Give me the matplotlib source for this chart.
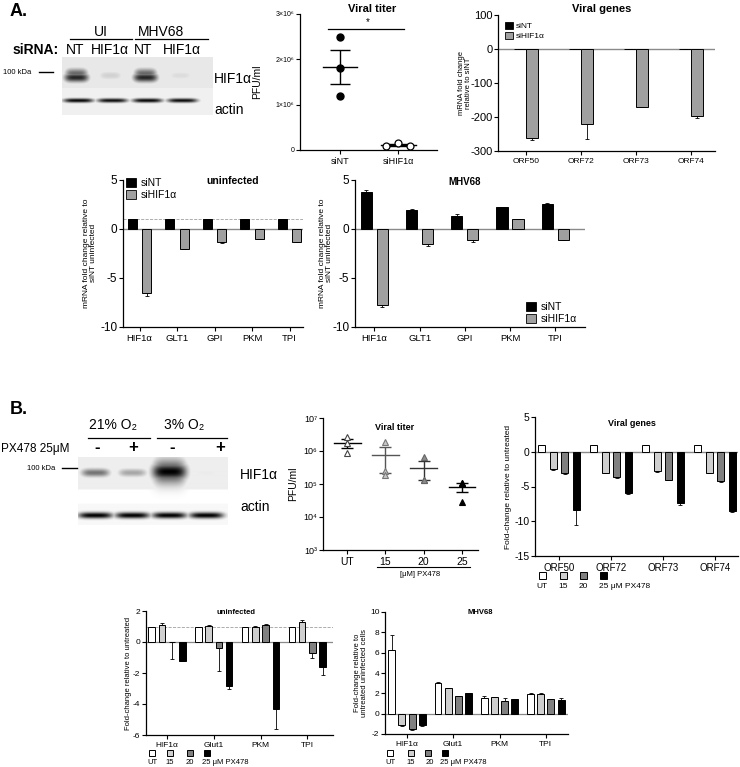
import numpy as np
import matplotlib
matplotlib.use('Agg')
import matplotlib.pyplot as plt
from matplotlib.patches import Rectangle, Patch
from matplotlib.lines import Line2D

plt.rcParams['font.family'] = ['Liberation Sans', 'DejaVu Sans']
plt.rcParams['axes.unicode_minus'] = False

# ---------------- DATA ----------------
# Panel A western blot (relative band intensity)
blotA_groups = ['UI', 'MHV68']
blotA_lanes = ['NT', 'HIF1α', 'NT', 'HIF1α']
blotA_hif = [0.85, 0.18, 0.85, 0.14]
blotA_actin = [0.95, 0.92, 0.95, 0.93]

# Panel A viral titer (PFU/ml)
titerA_groups = ['siNT', 'siHIF1α']
titerA_siNT = [2.5e6, 1.8e6, 1.2e6]
titerA_siHIF = [0.09e6, 0.15e6, 0.09e6]

# Panel A viral genes
genesA_cats = ['ORF50', 'ORF72', 'ORF73', 'ORF74']
genesA_siNT = [1, 1, 1, 1]
genesA_siHIF = [-263, -220, -170, -198]
genesA_siHIF_err = [4, 45, 2, 4]

# Panel A glycolytic genes
glyA_cats = ['HIF1α', 'GLT1', 'GPI', 'PKM', 'TPI']
uninfA_siNT = [1, 1, 1, 1, 1]
uninfA_siNT_err = [0, 0, 0, 0, 0]
uninfA_siHIF = [-6.5, -2.0, -1.3, -1.0, -1.3]
uninfA_siHIF_err = [0.3, 0.05, 0.1, 0.05, 0.05]
mhvA_siNT = [3.8, 1.9, 1.3, 2.2, 2.6]
mhvA_siNT_err = [0.2, 0.15, 0.2, 0.05, 0.05]
mhvA_siHIF = [-7.8, -1.5, -1.1, 1.0, -1.1]
mhvA_siHIF_err = [0.2, 0.25, 0.2, 0.0, 0.0]

# Panel B western blot
blotB_groups = ['21% O₂', '3% O₂']
blotB_lanes = ['-', '+', '-', '+']
blotB_hif = [0.55, 0.35, 1.0, 0.08]
blotB_actin = [1.0, 1.0, 1.0, 1.0]

# Panel B viral titer
titerB_groups = ['UT', '15', '20', '25']
titerB_UT = [2.7e6, 1.7e6, 0.85e6]
titerB_15 = [1.9e6, 2.5e5, 1.9e5]
titerB_20 = [6.8e5, 1.3e5, 1.3e5]
titerB_25 = [1.1e5, 1.1e5, 2.9e4]

dose_labels = ['UT', '15', '20', '25 μM PX478']

# Panel B viral genes
genesB_cats = ['ORF50', 'ORF72', 'ORF73', 'ORF74']
genesB_UT = [1, 1, 1, 1]
genesB_15 = [-2.5, -3.0, -2.8, -3.0]
genesB_20 = [-3.1, -3.7, -4.0, -4.2]
genesB_25 = [-8.4, -5.9, -7.4, -8.5]
genesB_UT_err = [0, 0, 0, 0]
genesB_15_err = [0.1, 0.1, 0.15, 0.1]
genesB_20_err = [0.1, 0.1, 0.1, 0.1]
genesB_25_err = [2.1, 0.2, 0.3, 0.2]

# Panel B glycolytic genes
glyB_cats = ['HIF1α', 'Glut1', 'PKM', 'TPI']
uninfB_UT = [1, 1, 1, 1]
uninfB_15 = [1.1, 1.05, 1.0, 1.3]
uninfB_20 = [-0.02, -0.4, 1.1, -0.7]
uninfB_25 = [-1.2, -2.85, -4.3, -1.6]
uninfB_UT_err = [0, 0, 0, 0]
uninfB_15_err = [0.1, 0.05, 0.05, 0.1]
uninfB_20_err = [1.1, 1.5, 0.05, 0.3]
uninfB_25_err = [0.02, 0.15, 1.3, 0.5]

mhvB_UT = [6.3, 3.0, 1.55, 1.95]
mhvB_15 = [-1.15, 2.5, 1.65, 1.95]
mhvB_20 = [-1.55, 1.75, 1.2, 1.4]
mhvB_25 = [-1.15, 2.0, 1.4, 1.35]
mhvB_UT_err = [1.45, 0.12, 0.15, 0.12]
mhvB_15_err = [0.03, 0.05, 0.03, 0.1]
mhvB_20_err = [0.1, 0.03, 0.3, 0.05]
mhvB_25_err = [0.03, 0.05, 0.05, 0.15]

# ---------------- FIGURE ----------------
W, H = 740, 767
fig = plt.figure(figsize=(W / 100, H / 100), dpi=100)


def fx(x):
    return x / W


def fy(y):
    return 1 - y / H


def add_ax(x0, y0, x1, y1):
    return fig.add_axes([x0 / W, 1 - y1 / H, (x1 - x0) / W, (y1 - y0) / H])


def ftext(x, y, s, **kw):
    kw.setdefault('ha', 'center')
    kw.setdefault('va', 'center')
    fig.text(fx(x), fy(y), s, **kw)


def fline(x0, x1, y, lw=0.9, color='black'):
    fig.add_artist(Line2D([fx(x0), fx(x1)], [fy(y), fy(y)], lw=lw,
                          color=color, transform=fig.transFigure))


def style_axes(ax, ysize, xsize):
    for s in ['top', 'right']:
        ax.spines[s].set_visible(False)
    ax.spines['left'].set_linewidth(0.9)
    ax.spines['bottom'].set_linewidth(0.9)
    ax.tick_params(axis='y', labelsize=ysize, length=3, width=0.8, pad=1)
    ax.tick_params(axis='x', labelsize=xsize, length=3, width=0.8, pad=2)


def bars(ax, vals, errs, offset, width, color, lw=0.7):
    xs = np.arange(len(vals)) + offset
    ax.bar(xs, vals, width, color=color, edgecolor='black', linewidth=lw, zorder=3)
    lo = [e if v < 0 else 0 for v, e in zip(vals, errs)]
    hi = [e if v >= 0 else 0 for v, e in zip(vals, errs)]
    ax.errorbar(xs, vals, yerr=[lo, hi], fmt='none', ecolor='black',
                elinewidth=0.6, capsize=1.5, capthick=0.6, zorder=4)


def blot_image(ax, rows, width, height, bg_rows):
    img = np.zeros((height, width))
    for (r0, r1, bg) in bg_rows:
        img[r0:r1, :] = bg
    yy, xx = np.mgrid[0:height, 0:width]
    for (cx, cy, hw, sy, inten) in rows:
        band = inten * np.exp(-((xx - cx) / hw) ** 4) * np.exp(-((yy - cy) / sy) ** 2)
        img = np.maximum(img, band)
    ax.imshow(img, cmap='gray_r', vmin=0, vmax=1, aspect='auto',
              interpolation='bilinear', extent=[0, width, height, 0])
    ax.axis('off')


# ---------------- PANEL LABELS ----------------
ftext(10, 12, 'A.', ha='left', fontsize=13, fontweight='bold')
ftext(10, 410, 'B.', ha='left', fontsize=13, fontweight='bold')

# ---------------- A: Western blot ----------------
axb = add_ax(62, 57, 213, 115)
lanesA = [14, 48, 83, 118]
bandsA = []
for i, v in enumerate(blotA_hif):
    if v > 0.5:
        bandsA.append((lanesA[i], 20, 12, 4.5, v))
        bandsA.append((lanesA[i], 16, 11, 5.0, v * 0.7))
    else:
        bandsA.append((lanesA[i], 18, 12, 5.0, v))
for i, v in enumerate(blotA_actin):
    bandsA.append((lanesA[i] + 2, 43, 15, 2.2, v))
blot_image(axb, bandsA, 151, 58, [(0, 31, 0.09), (31, 58, 0.06)])

ftext(101, 32, blotA_groups[0], fontsize=10)
ftext(161, 32, blotA_groups[1], fontsize=10)
fline(70, 132, 39)
fline(135, 208, 39)
ftext(13, 50, 'siRNA:', ha='left', fontsize=10, fontweight='bold')
for xl, lab in zip([75, 110, 143, 182], blotA_lanes):
    ftext(xl, 50, lab, fontsize=10)
ftext(3, 72, '100 kDa', ha='left', fontsize=5.5)
fline(39, 53, 72, lw=1.0)
ftext(214, 79, 'HIF1α', ha='left', fontsize=10)
ftext(214, 110, 'actin', ha='left', fontsize=10)

# ---------------- A: Viral titer ----------------
axT = add_ax(300, 14, 437, 150)
style_axes(axT, 5, 6.5)
axT.plot(np.zeros(len(titerA_siNT)), titerA_siNT, 'o', color='black', ms=5, zorder=3)
axT.plot(1 + np.array([-0.2, 0.0, 0.2]), titerA_siHIF, 'o', mfc='white', mec='black',
         ms=5, mew=0.9, zorder=3)
for i, d in enumerate([titerA_siNT, titerA_siHIF]):
    m = np.mean(d)
    s = np.std(d, ddof=1) / np.sqrt(len(d))
    axT.plot([i - 0.3, i + 0.3], [m, m], color='black', lw=1.0, zorder=2)
    axT.errorbar([i], [m], yerr=[[s], [s]], fmt='none', ecolor='black',
                 elinewidth=1.0, capsize=7, capthick=1.0, zorder=2)
axT.set_xlim(-0.69, 1.67)
axT.set_ylim(0, 3e6)
axT.set_yticks([0, 1e6, 2e6, 3e6])
axT.set_yticklabels(['0', '1×10⁶', '2×10⁶', '3×10⁶'])
axT.set_xticks([0, 1])
axT.set_xticklabels(titerA_groups)
axT.plot([-0.2, 1.1], [2.67e6, 2.67e6], color='black', lw=0.9, clip_on=False)
axT.text(0.47, 2.72e6, '*', ha='center', va='bottom', fontsize=7)
ftext(372, 9, 'Viral titer', fontsize=8, fontweight='bold')
ftext(257, 82, 'PFU/ml', fontsize=7.5, rotation=90)

# ---------------- A: Viral genes ----------------
axG = add_ax(498, 15, 715, 151)
style_axes(axG, 8, 6)
axG.axhline(0, color='#8a8a8a', lw=1.0, zorder=2)
bars(axG, genesA_siNT, [0] * 4, -0.11, 0.21, 'black')
bars(axG, genesA_siHIF, genesA_siHIF_err, 0.11, 0.21, '#a0a0a0')
axG.set_xlim(-0.51, 3.44)
axG.set_ylim(-300, 100)
axG.set_yticks([-300, -200, -100, 0, 100])
axG.set_xticks(range(4))
axG.set_xticklabels(genesA_cats)
axG.legend([Patch(facecolor='black', edgecolor='black', lw=0.6),
            Patch(facecolor='#a0a0a0', edgecolor='black', lw=0.6)],
           ['siNT', 'siHIF1α'], loc='upper left', bbox_to_anchor=(fx(505), fy(22)),
           bbox_transform=fig.transFigure, frameon=False, fontsize=6,
           handlelength=0.9, handleheight=0.9, handletextpad=0.4, borderpad=0,
           labelspacing=0.2, borderaxespad=0)
ftext(602, 9, 'Viral genes', fontsize=8, fontweight='bold')
ftext(465, 83, 'mRNA fold change\nrelative to siNT', fontsize=5.5, rotation=90,
      linespacing=1.0)

# ---------------- A: uninfected ----------------
axU = add_ax(123, 180, 303, 327)
style_axes(axU, 8.5, 6.8)
axU.axhline(0, color='#8a8a8a', lw=1.0, zorder=2)
axU.axhline(1, color='#a0a0a0', lw=0.6, ls='--', zorder=1)
bars(axU, uninfA_siNT, uninfA_siNT_err, -0.19, 0.24, 'black')
bars(axU, uninfA_siHIF, uninfA_siHIF_err, 0.19, 0.24, '#a0a0a0')
axU.set_xlim(-0.44, 4.36)
axU.set_ylim(-10, 5)
axU.set_yticks([-10, -5, 0, 5])
axU.set_xticks(range(5))
axU.set_xticklabels(glyA_cats)
axU.legend([Patch(facecolor='black', edgecolor='black', lw=0.6),
            Patch(facecolor='#a0a0a0', edgecolor='black', lw=0.6)],
           ['siNT', 'siHIF1α'], loc='upper left', bbox_to_anchor=(fx(126), fy(178)),
           bbox_transform=fig.transFigure, frameon=False, fontsize=7.5,
           handlelength=1.0, handleheight=1.0, handletextpad=0.4, borderpad=0,
           labelspacing=0.15, borderaxespad=0)
ftext(233, 181, 'uninfected', fontsize=7.5, fontweight='bold')
ftext(90, 253, 'mRNA fold change relative to\nsiNT uninfected', fontsize=6,
      rotation=90, linespacing=1.0)

# ---------------- A: MHV68 ----------------
axM = add_ax(355, 180, 585, 327)
style_axes(axM, 8.5, 6.8)
axM.axhline(0, color='#8a8a8a', lw=1.0, zorder=2)
bars(axM, mhvA_siNT, mhvA_siNT_err, -0.177, 0.245, 'black')
bars(axM, mhvA_siHIF, mhvA_siHIF_err, 0.177, 0.245, '#a0a0a0')
axM.set_xlim(-0.43, 4.66)
axM.set_ylim(-10, 5)
axM.set_yticks([-10, -5, 0, 5])
axM.set_xticks(range(5))
axM.set_xticklabels(glyA_cats)
axM.legend([Patch(facecolor='black', edgecolor='black', lw=0.6),
            Patch(facecolor='#a0a0a0', edgecolor='black', lw=0.6)],
           ['siNT', 'siHIF1α'], loc='upper left', bbox_to_anchor=(fx(526), fy(302)),
           bbox_transform=fig.transFigure, frameon=False, fontsize=7.5,
           handlelength=1.0, handleheight=1.0, handletextpad=0.4, borderpad=0,
           labelspacing=0.15, borderaxespad=0)
ftext(465, 182, 'MHV68', fontsize=7, fontweight='bold')
ftext(326, 253, 'mRNA fold change relative to\nsiNT uninfected', fontsize=6,
      rotation=90, linespacing=1.0)

# ---------------- B: Western blot ----------------
axb2 = add_ax(78, 457, 228, 525)
lanesB = [17, 54, 91, 128]
bandsB = []
for i, v in enumerate(blotB_hif):
    if v > 0.9:
        bandsB.append((lanesB[i], 15, 17, 8.0, 1.0))
        bandsB.append((lanesB[i], 15, 16, 12.0, 0.75))
    else:
        bandsB.append((lanesB[i], 16, 14, 4.0, v))
for i, v in enumerate(blotB_actin):
    bandsB.append((lanesB[i], 58, 17, 3.0, v))
blot_image(axb2, bandsB, 150, 68, [(0, 33, 0.07), (33, 47, 0.0), (47, 68, 0.03)])

ftext(113, 425, blotB_groups[0], fontsize=10)
ftext(184, 425, blotB_groups[1], fontsize=10)
fline(88, 150, 438)
fline(157, 227, 438)
ftext(1, 449, 'PX478 25μM', ha='left', fontsize=8.5)
for xl, lab in zip([97, 133, 172, 220], blotB_lanes):
    ftext(xl, 448, lab, fontsize=12, fontweight='bold')
ftext(27, 468, '100 kDa', ha='left', fontsize=5.5)
fline(62, 77, 468, lw=1.0)
ftext(240, 475, 'HIF1α', ha='left', fontsize=10)
ftext(240, 507, 'actin', ha='left', fontsize=10)

# ---------------- B: Viral titer ----------------
axBT = add_ax(323, 418, 478, 550)
style_axes(axBT, 6.5, 7.5)
axBT.set_yscale('log')
fills = ['white', '#c8c8c8', '#8c8c8c', 'black']
edges = ['#444444', '#777777', '#666666', 'black']
lines = ['black', '#555555', '#333333', 'black']
for i, d in enumerate([titerB_UT, titerB_15, titerB_20, titerB_25]):
    axBT.plot(np.full(len(d), i), d, '^', mfc=fills[i], mec=edges[i], ms=5, mew=0.8, zorder=3)
    m = np.mean(d)
    s = np.std(d, ddof=1) / np.sqrt(len(d))
    axBT.plot([i - 0.35, i + 0.35], [m, m], color=lines[i], lw=1.0, zorder=2)
    axBT.errorbar([i], [m], yerr=[[s], [s]], fmt='none', ecolor=lines[i],
                  elinewidth=1.0, capsize=4.5, capthick=1.0, zorder=2)
axBT.set_xlim(-0.63, 3.42)
axBT.set_ylim(1e3, 1e7)
axBT.set_yticks([1e3, 1e4, 1e5, 1e6, 1e7])
axBT.set_yticklabels(['10³', '10⁴', '10⁵', '10⁶', '10⁷'])
axBT.minorticks_off()
axBT.set_xticks(range(4))
axBT.set_xticklabels(titerB_groups)
fline(377, 470, 567, lw=0.8)
ftext(420, 575, '[μM] PX478', fontsize=5.5)
ftext(395, 428, 'Viral titer', fontsize=6.5, fontweight='bold')
ftext(293, 484, 'PFU/ml', fontsize=7.5, rotation=90)

# ---------------- B: Viral genes ----------------
dose_colors = ['white', '#cfcfcf', '#808080', 'black']
dose_offsets = [-0.33, -0.11, 0.11, 0.33]
axBG = add_ax(535, 417, 738, 556)
style_axes(axBG, 7.5, 7)
axBG.axhline(0, color='#8a8a8a', lw=1.0, zorder=2)
for vals, errs, off, col in zip([genesB_UT, genesB_15, genesB_20, genesB_25],
                                [genesB_UT_err, genesB_15_err, genesB_20_err, genesB_25_err],
                                dose_offsets, dose_colors):
    bars(axBG, vals, errs, off, 0.135, col)
axBG.set_xlim(-0.46, 3.44)
axBG.set_ylim(-15, 5)
axBG.set_yticks([-15, -10, -5, 0, 5])
axBG.set_xticks(range(4))
axBG.set_xticklabels(genesB_cats)
ftext(632, 424, 'Viral genes', fontsize=6.5, fontweight='bold')
ftext(508, 487, 'Fold-change relative to untreated', fontsize=6, rotation=90)


def dose_legend(xs_sq, y_sq, xs_lab, y_lab, size, fs):
    for xs, col in zip(xs_sq, dose_colors):
        fig.add_artist(Rectangle((fx(xs - size / 2), fy(y_sq + size / 2)), size / W, size / H,
                                 facecolor=col, edgecolor='black', lw=0.7,
                                 transform=fig.transFigure))
    for i, (xl, lab) in enumerate(zip(xs_lab, dose_labels)):
        ftext(xl, y_lab, lab, fontsize=fs, ha='center' if i < 3 else 'left')


dose_legend([542, 563, 583, 603], 575, [542, 563, 583, 599], 587, 7, 6)

# ---------------- B: uninfected ----------------
axBU = add_ax(146, 611, 333, 735)
style_axes(axBU, 6, 6)
axBU.axhline(0, color='#8a8a8a', lw=0.9, zorder=2)
axBU.axhline(1, color='#a0a0a0', lw=0.6, ls='--', zorder=1)
for vals, errs, off, col in zip([uninfB_UT, uninfB_15, uninfB_20, uninfB_25],
                                [uninfB_UT_err, uninfB_15_err, uninfB_20_err, uninfB_25_err],
                                dose_offsets, dose_colors):
    bars(axBU, vals, errs, off, 0.14, col)
axBU.set_xlim(-0.45, 3.55)
axBU.set_ylim(-6, 2)
axBU.set_yticks([-6, -4, -2, 0, 2])
axBU.set_xticks(range(4))
axBU.set_xticklabels(glyB_cats)
ftext(236, 613, 'uninfected', fontsize=5.5, fontweight='bold')
ftext(128, 673, 'Fold-change relative to untreated', fontsize=5.5, rotation=90)
dose_legend([152, 170, 190, 207], 753, [152, 170, 190, 202], 763, 6.5, 5.5)

# ---------------- B: MHV68 ----------------
axBM = add_ax(385, 612, 568, 734)
style_axes(axBM, 6, 6)
axBM.axhline(0, color='#8a8a8a', lw=0.9, zorder=2)
for vals, errs, off, col in zip([mhvB_UT, mhvB_15, mhvB_20, mhvB_25],
                                [mhvB_UT_err, mhvB_15_err, mhvB_20_err, mhvB_25_err],
                                dose_offsets, dose_colors):
    bars(axBM, vals, errs, off, 0.15, col)
axBM.set_xlim(-0.475, 3.48)
axBM.set_ylim(-2, 10)
axBM.set_yticks([-2, 0, 2, 4, 6, 8, 10])
axBM.set_xticks(range(4))
axBM.set_xticklabels(glyB_cats)
ftext(480, 613, 'MHV68', fontsize=5.5, fontweight='bold')
ftext(361, 673, 'Fold-change relative to\nuntreated uninfected cells', fontsize=5.5,
      rotation=90, linespacing=1.0)
dose_legend([390, 411, 428, 445], 753, [390, 411, 430, 440], 763, 6.5, 5.5)

fig.savefig('out.png', dpi=100)
